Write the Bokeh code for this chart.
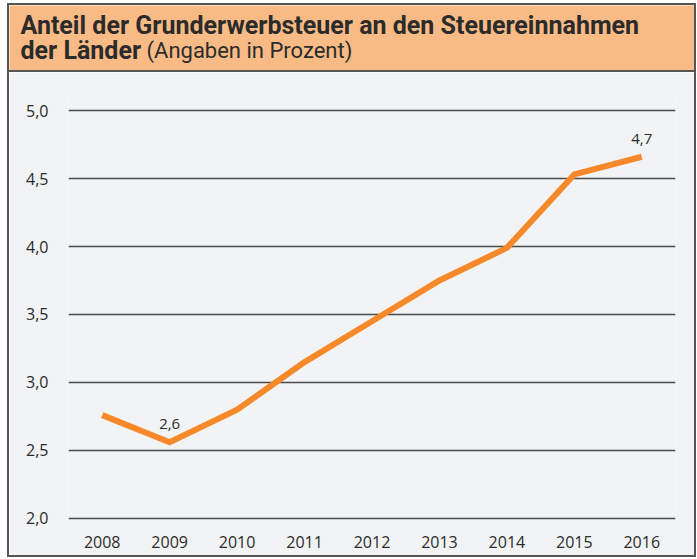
from bokeh.plotting import figure
from bokeh.layouts import column
from bokeh.models import Range1d, FixedTicker, Label, ColumnDataSource
from bokeh.core.properties import value
from bokeh.embed import file_html
from bokeh.resources import INLINE

# ---- data ----
years = [2008, 2009, 2010, 2011, 2012, 2013, 2014, 2015, 2016]
shares = [2.76, 2.56, 2.80, 3.15, 3.45, 3.75, 3.99, 4.53, 4.66]
label_years = [2009, 2016]
label_values = [2.56, 4.66]
label_texts = ["2,6", "4,7"]
y_ticks = [2.0, 2.5, 3.0, 3.5, 4.0, 4.5, 5.0]
y_tick_labels = ["2,0", "2,5", "3,0", "3,5", "4,0", "4,5", "5,0"]
x_tick_labels = [str(y) for y in years]
title_line1 = "Anteil der Grunderwerbsteuer an den Steuereinnahmen"
title_line2_bold = "der Länder"
title_line2_rest = "(Angaben in Prozent)"

ORANGE_BG = "#F9BB86"
PANEL_BG = "#F2F3F5"
LINE_COL = "#F7892A"
TEXT_COL = "#2b2b2b"
GRID_COL = "#4a4a4a"
TITLE_FONT = "Roboto"
TICK_FONT = "Open Sans"

W = 685
HEAD_H = 65
MAIN_H = 485

# ---- header ----
head = figure(width=W, height=HEAD_H, output_backend="svg", toolbar_location=None,
              title=None,
              x_range=Range1d(0, W), y_range=Range1d(HEAD_H, 0),
              x_axis_location=None, y_axis_location=None,
              min_border=0, min_border_left=0, min_border_right=0,
              min_border_top=0, min_border_bottom=0,
              background_fill_color=ORANGE_BG, border_fill_color=ORANGE_BG,
              outline_line_color=None)
head.frame_align = False
head.grid.visible = False
head.add_layout(Label(x=11, y=20, text=title_line1, text_font=TITLE_FONT,
                      text_font_style="bold", text_font_size="25px",
                      text_color=TEXT_COL, text_baseline="alphabetic"))
head.add_layout(Label(x=11, y=45, text=title_line2_bold, text_font=TITLE_FONT,
                      text_font_style="bold", text_font_size="25px",
                      text_color=TEXT_COL, text_baseline="alphabetic"))
head.add_layout(Label(x=137, y=45, text=title_line2_rest, text_font=TITLE_FONT,
                      text_font_size="22px",
                      text_color=TEXT_COL, text_baseline="alphabetic"))

# ---- main chart ----
p = figure(width=W, height=MAIN_H, output_backend="svg", toolbar_location=None,
           x_range=Range1d(2007.5, 2016.5), y_range=Range1d(1.985, 5.14),
           min_border_left=59, min_border_right=19, min_border_top=19,
           min_border_bottom=37,
           background_fill_color=PANEL_BG, border_fill_color=PANEL_BG,
           outline_line_color=None,
           styles={"border-top": "2px solid #555555"})
p.frame_align = False

p.line(years, shares, line_color=LINE_COL, line_width=6, line_join="miter")

src = ColumnDataSource(dict(x=label_years, y=label_values, t=label_texts))
p.text(x="x", y="y", text="t", source=src, y_offset=-13, text_align="center",
       text_baseline="bottom", text_font=value(TICK_FONT), text_font_size="15px",
       text_color=TEXT_COL)

p.xgrid.visible = False
p.ygrid.ticker = FixedTicker(ticks=y_ticks)
p.ygrid.grid_line_color = GRID_COL
p.ygrid.grid_line_width = 1.6

p.yaxis.ticker = FixedTicker(ticks=y_ticks)
p.yaxis.major_label_overrides = {t: l for t, l in zip(y_ticks, y_tick_labels)}
p.xaxis.ticker = FixedTicker(ticks=years)
p.xaxis.major_label_overrides = {y: l for y, l in zip(years, x_tick_labels)}
for ax in (p.xaxis, p.yaxis):
    ax.axis_line_color = None
    ax.major_tick_line_color = None
    ax.minor_tick_line_color = None
    ax.major_label_text_font = TICK_FONT
    ax.major_label_text_font_size = "16px"
    ax.major_label_text_color = TEXT_COL
p.yaxis.major_label_standoff = 14
p.xaxis.major_label_standoff = 9

layout = column(head, p, spacing=0,
                styles={"border": "2px solid #555555", "margin-left": "7px", "margin-top": "3px"})

open("out.html", "w").write(file_html(layout, INLINE))
